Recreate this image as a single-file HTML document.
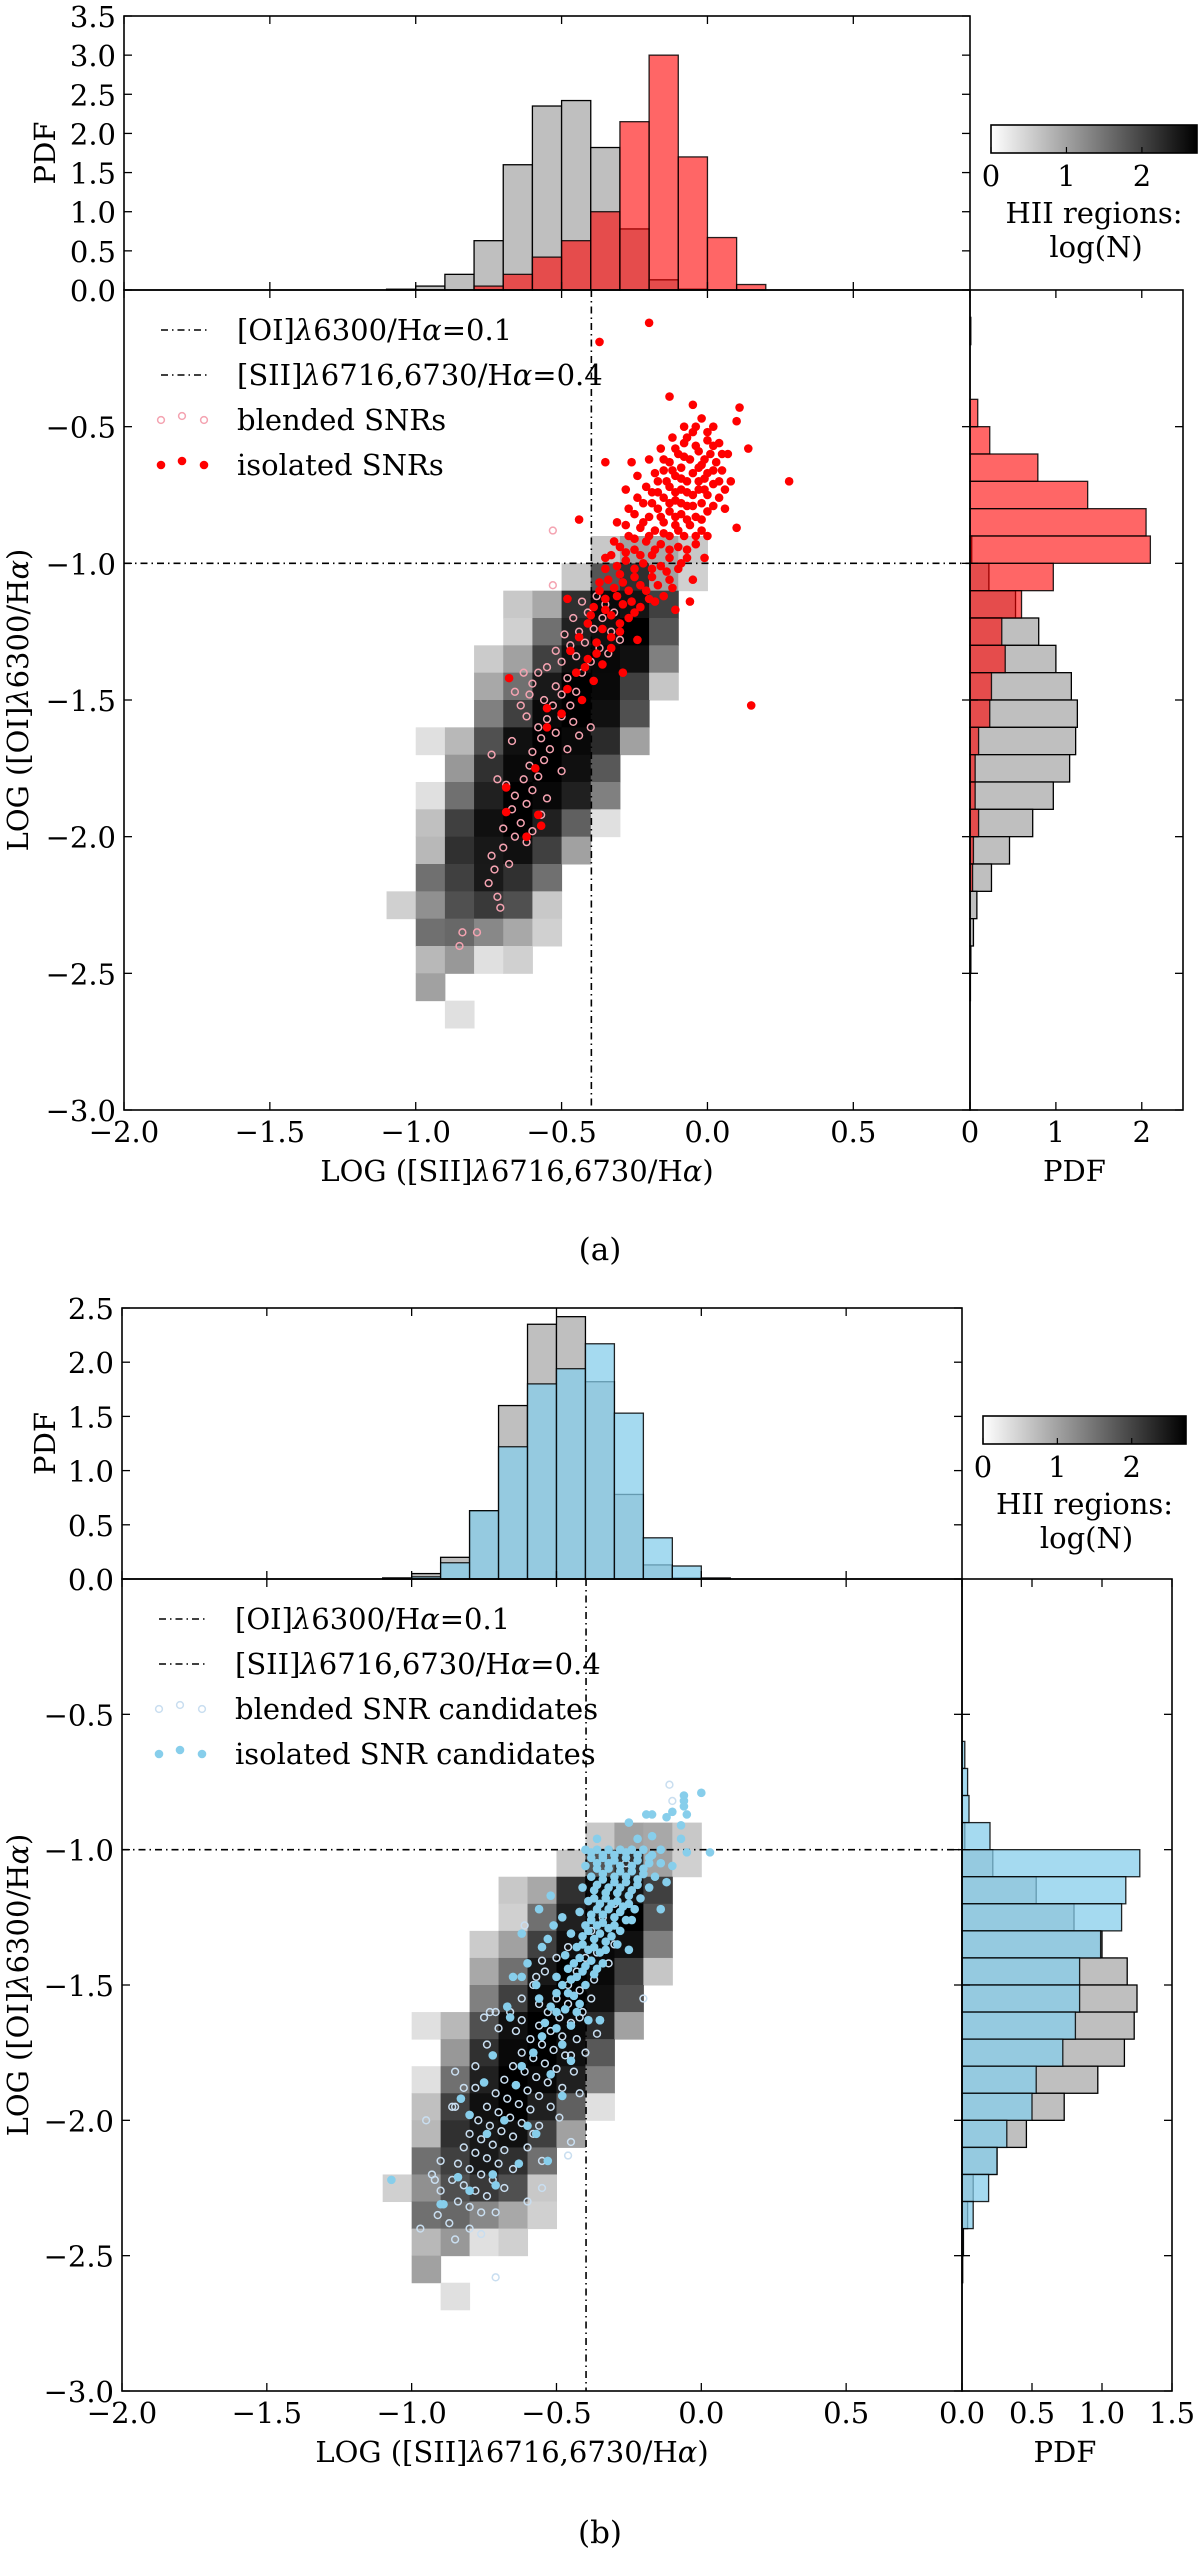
<!DOCTYPE html>
<html><head><meta charset="utf-8"><title>SNR diagnostic diagrams</title>
<style>
html,body{margin:0;padding:0;background:#fff;}
svg{display:block;}
text{font-family:"DejaVu Serif","Liberation Serif",serif;fill:#000;}
</style></head>
<body>
<svg id="fig" xmlns="http://www.w3.org/2000/svg" width="1200" height="2551" viewBox="0 0 1200 2551">
<defs>
<linearGradient id="cbgrad" x1="0" x2="1" y1="0" y2="0"><stop offset="0" stop-color="#ffffff"/><stop offset="1" stop-color="#000000"/></linearGradient>
</defs>
</svg>
<script>
// ---------- data ----------
const tickX = [-2.0,-1.5,-1.0,-0.5,0.0,0.5];
const tickXLabels = ["\u22122.0","\u22121.5","\u22121.0","\u22120.5","0.0","0.5"];
const tickY = [-3.0,-2.5,-2.0,-1.5,-1.0,-0.5];
const tickYLabels = ["\u22123.0","\u22122.5","\u22122.0","\u22121.5","\u22121.0","\u22120.5"];
const topTicksA = [0,0.5,1,1.5,2,2.5,3,3.5];
const topTicksB = [0,0.5,1,1.5,2,2.5];
const rightTicksA = [0,1,2];
const rightTickLabelsA = ["0","1","2"];
const rightTicksB = [0,0.5,1,1.5];
const rightTickLabelsB = ["0.0","0.5","1.0","1.5"];
const cbTicks = [0,1,2];

const topBinStart = -1.1;
const hiiTopPdf = [0.01,0.05,0.2,0.63,1.6,2.35,2.42,1.82,0.78,0.13,0.01];
const snrTopPdfA = [0,0,0,0.05,0.2,0.42,0.63,1.0,2.15,3.0,1.7,0.67,0.07];
const candTopPdfB = [0.005,0.02,0.15,0.63,1.22,1.8,1.94,2.17,1.53,0.38,0.12,0.01];

const rightBinTop = -0.1;
const hiiRightPdf = [0,0,0,0,0,0,0,0,0.02,0.22,0.53,0.8,1.0,1.18,1.25,1.23,1.16,0.97,0.73,0.46,0.25,0.08,0.04,0.01,0.005];
const snrRightPdfA = [0.01,0,0,0.09,0.23,0.79,1.37,2.05,2.1,0.97,0.6,0.37,0.41,0.25,0.23,0.1,0.06,0.06,0.1,0.04,0.03,0,0,0,0];
const candRightPdfB = [0,0,0,0,0,0.02,0.04,0.05,0.2,1.27,1.17,1.14,0.99,0.84,0.84,0.81,0.72,0.53,0.5,0.32,0.25,0.19,0.08,0.01,0];

const cellX = [-0.4,-0.3,-0.2,-0.1, -0.5,-0.4,-0.3,-0.2,-0.1, -0.7,-0.6,-0.5,-0.4,-0.3,-0.2, -0.7,-0.6,-0.5,-0.4,-0.3,-0.2,
 -0.8,-0.7,-0.6,-0.5,-0.4,-0.3,-0.2, -0.8,-0.7,-0.6,-0.5,-0.4,-0.3,-0.2, -0.8,-0.7,-0.6,-0.5,-0.4,-0.3,
 -1.0,-0.9,-0.8,-0.7,-0.6,-0.5,-0.4,-0.3, -0.9,-0.8,-0.7,-0.6,-0.5,-0.4, -1.0,-0.9,-0.8,-0.7,-0.6,-0.5,-0.4,
 -1.0,-0.9,-0.8,-0.7,-0.6,-0.5,-0.4, -1.0,-0.9,-0.8,-0.7,-0.6,-0.5, -1.0,-0.9,-0.8,-0.7,-0.6,
 -1.1,-1.0,-0.9,-0.8,-0.7,-0.6, -1.0,-0.9,-0.8,-0.7,-0.6, -1.0,-0.9,-0.8,-0.7, -1.0, -0.9];
const cellY = [-1.0,-1.0,-1.0,-1.0, -1.1,-1.1,-1.1,-1.1,-1.1, -1.2,-1.2,-1.2,-1.2,-1.2,-1.2, -1.3,-1.3,-1.3,-1.3,-1.3,-1.3,
 -1.4,-1.4,-1.4,-1.4,-1.4,-1.4,-1.4, -1.5,-1.5,-1.5,-1.5,-1.5,-1.5,-1.5, -1.6,-1.6,-1.6,-1.6,-1.6,-1.6,
 -1.7,-1.7,-1.7,-1.7,-1.7,-1.7,-1.7,-1.7, -1.8,-1.8,-1.8,-1.8,-1.8,-1.8, -1.9,-1.9,-1.9,-1.9,-1.9,-1.9,-1.9,
 -2.0,-2.0,-2.0,-2.0,-2.0,-2.0,-2.0, -2.1,-2.1,-2.1,-2.1,-2.1,-2.1, -2.2,-2.2,-2.2,-2.2,-2.2,
 -2.3,-2.3,-2.3,-2.3,-2.3,-2.3, -2.4,-2.4,-2.4,-2.4,-2.4, -2.5,-2.5,-2.5,-2.5, -2.6, -2.7];
const cellV = [0.58,1.0,0.92,0.58, 0.58,1.8,2.2,1.0,0.5, 0.58,0.92,2.19,2.6,2.5,2.02, 0.5,1.51,2.36,2.53,2.7,1.8,
 0.55,1.0,2.02,2.53,2.62,2.53,1.34, 0.92,1.51,2.43,2.7,2.6,2.02,0.6, 1.34,2.02,2.6,2.7,2.53,1.85,
 0.33,0.75,1.85,2.53,2.7,2.6,2.25,1.0, 1.09,2.19,2.6,2.7,2.53,1.77, 0.33,1.51,2.36,2.7,2.62,2.36,1.34,
 0.67,2.02,2.53,2.7,2.36,1.68,0.33, 0.75,2.19,2.45,2.53,2.02,1.0, 1.51,2.02,2.43,2.19,1.51,
 0.5,1.18,1.85,2.1,1.85,0.58, 1.51,1.6,1.26,0.92,0.5, 0.75,1.09,0.33,0.5, 1.0, 0.33];

const isolatedA = [[-0.2,-0.12],[-0.37,-0.19],[-0.13,-0.39],[-0.05,-0.42],[0.11,-0.43],[0.1,-0.48],[0.14,-0.58],[0.28,-0.7],[-0.35,-0.63],[-0.44,-0.84],[0.1,-0.87],[-0.06,-1.14],[0.15,-1.52],[-0.68,-1.42],[-0.48,-1.13],[-0.55,-1.53],[-0.69,-1.82],[-0.62,-2.0],[-0.58,-1.92],[-0.57,-1.96],[-0.69,-1.91],[-0.59,-1.75],
[-0.02,-0.47],[0.02,-0.5],[-0.05,-0.52],[0.0,-0.55],[0.04,-0.56],[-0.08,-0.56],[-0.03,-0.59],[0.01,-0.6],[-0.1,-0.6],[-0.06,-0.62],[0.03,-0.63],[-0.13,-0.63],[-0.02,-0.64],[-0.09,-0.65],[0.0,-0.67],[-0.05,-0.67],[-0.15,-0.66],[0.05,-0.66],[-0.11,-0.68],[-0.03,-0.7],[-0.07,-0.7],[-0.17,-0.7],[0.02,-0.71],[-0.13,-0.72],[-0.09,-0.73],[-0.01,-0.73],[-0.05,-0.75],[-0.19,-0.74],[-0.15,-0.76],[0.04,-0.76],[-0.11,-0.77],[-0.02,-0.78],[-0.07,-0.79],[-0.22,-0.78],[-0.17,-0.8],[-0.13,-0.81],[0.0,-0.81],[-0.09,-0.82],[-0.04,-0.83],[-0.2,-0.83],[-0.25,-0.82],[-0.15,-0.85],[-0.11,-0.86],[-0.06,-0.86],[-0.23,-0.87],[-0.18,-0.88],[-0.02,-0.88],[-0.13,-0.9],[-0.08,-0.9],[-0.27,-0.9],[-0.21,-0.92],[-0.16,-0.93],[-0.1,-0.94],[-0.04,-0.93],[-0.3,-0.94],[-0.25,-0.95],[-0.19,-0.97],[-0.13,-0.98],[-0.07,-0.98],[-0.33,-0.97],[-0.28,-0.99],[-0.22,-1.0],[-0.16,-1.01],[-0.1,-1.02],[-0.35,-1.02],[-0.3,-1.04],[-0.25,-1.05],[-0.19,-1.05],[-0.13,-1.06],[-0.37,-1.07],[-0.32,-1.09],[-0.27,-1.1],[-0.21,-1.1],[-0.15,-1.12],[-0.35,-1.13],[-0.29,-1.15],[-0.23,-1.16],[-0.39,-1.16],[-0.33,-1.19],[-0.27,-1.2],[-0.41,-1.22],[-0.36,-1.24],[-0.3,-1.25],[-0.44,-1.27],[-0.38,-1.29],[-0.33,-1.31],[-0.47,-1.32],[-0.41,-1.35],[-0.36,-1.37],[-0.45,-1.4],[-0.39,-1.43],[-0.48,-1.46],[-0.43,-1.5],[-0.5,-1.55],[-0.55,-1.6],[-0.2,-0.62],[-0.24,-0.68],[0.07,-0.6],[0.08,-0.7],[-0.12,-0.54],[-0.28,-0.73],[0.06,-0.8],[-0.31,-0.85],[-0.01,-0.98],[-0.05,-1.06],[-0.18,-1.14],[-0.11,-1.17],[-0.24,-1.28],[-0.29,-1.4],
[-0.04,-0.5],[0.0,-0.52],[-0.07,-0.54],[0.02,-0.57],[-0.04,-0.57],[-0.11,-0.58],[0.05,-0.6],[-0.01,-0.62],[-0.08,-0.61],[-0.15,-0.62],[0.02,-0.66],[-0.03,-0.65],[-0.12,-0.66],[-0.18,-0.67],[0.04,-0.7],[-0.01,-0.69],[-0.09,-0.69],[-0.14,-0.7],[-0.21,-0.72],[0.0,-0.75],[-0.03,-0.73],[-0.07,-0.74],[-0.11,-0.74],[-0.17,-0.74],[-0.24,-0.76],[0.02,-0.79],[-0.05,-0.79],[-0.09,-0.78],[-0.13,-0.78],[-0.19,-0.78],[-0.27,-0.8],[-0.02,-0.84],[-0.07,-0.84],[-0.11,-0.83],[-0.16,-0.83],[-0.22,-0.85],[-0.28,-0.86],[-0.04,-0.9],[-0.1,-0.88],[-0.15,-0.89],[-0.2,-0.9],[-0.25,-0.91],[-0.32,-0.92],[-0.07,-0.95],[-0.13,-0.95],[-0.18,-0.95],[-0.23,-0.97],[-0.28,-0.96],[-0.35,-0.98],[-0.09,-1.0],[-0.14,-1.03],[-0.19,-1.02],[-0.25,-1.02],[-0.31,-1.01],[-0.12,-1.09],[-0.17,-1.08],[-0.23,-1.08],[-0.29,-1.07],[-0.34,-1.06],[-0.2,-1.13],[-0.26,-1.14],[-0.31,-1.12],[-0.37,-1.1],[-0.25,-1.18],[-0.3,-1.22],[-0.35,-1.17],[-0.4,-1.19],[-0.33,-1.27],[-0.38,-1.33],[-0.42,-1.38],[-0.08,-0.5],[-0.16,-0.58],[0.06,-0.73],[0.0,-0.9],[-0.26,-0.63]];
const blendedA = [[-0.53,-0.88],[-0.53,-1.08],[-0.85,-2.4],[-0.84,-2.35],[-0.79,-2.35],[-0.71,-2.26],[-0.72,-2.22],[-0.75,-2.17],[-0.73,-2.12],[-0.74,-2.07],[-0.7,-2.04],[-0.68,-2.1],[-0.66,-2.0],[-0.7,-1.97],[-0.64,-1.95],[-0.67,-1.9],[-0.62,-1.88],[-0.66,-1.85],[-0.6,-1.83],[-0.63,-1.79],[-0.58,-1.78],[-0.61,-1.74],[-0.56,-1.72],[-0.6,-1.69],[-0.74,-1.7],[-0.67,-1.65],[-0.54,-1.68],[-0.57,-1.64],[-0.52,-1.62],[-0.58,-1.6],[-0.55,-1.57],[-0.5,-1.56],[-0.53,-1.52],[-0.47,-1.52],[-0.56,-1.5],[-0.5,-1.48],[-0.45,-1.47],[-0.52,-1.45],[-0.6,-1.44],[-0.63,-1.4],[-0.58,-1.4],[-0.55,-1.38],[-0.48,-1.42],[-0.43,-1.4],[-0.5,-1.36],[-0.45,-1.34],[-0.4,-1.36],[-0.52,-1.32],[-0.47,-1.3],[-0.42,-1.29],[-0.37,-1.31],[-0.49,-1.26],[-0.44,-1.25],[-0.39,-1.24],[-0.46,-1.2],[-0.41,-1.18],[-0.36,-1.2],[-0.43,-1.14],[-0.38,-1.12],[-0.33,-1.25],[-0.3,-1.28],[-0.34,-1.33],[-0.4,-1.6],[-0.46,-1.58],[-0.44,-1.63],[-0.62,-1.56],[-0.64,-1.52],[-0.66,-1.47],[-0.61,-1.48],[-0.62,-2.02],[-0.6,-1.98],[-0.57,-1.92],[-0.55,-1.86],[-0.69,-1.81],[-0.72,-1.79],[-0.5,-1.76],[-0.48,-1.68],[-0.35,-1.15],[-0.32,-1.18]];
const isolatedB = [[-0.4,-1.0],[-0.36,-1.0],[-0.32,-1.0],[-0.28,-1.0],[-0.24,-1.0],[-0.2,-1.0],[-0.17,-1.02],[-0.38,-1.03],[-0.34,-1.03],[-0.3,-1.04],[-0.26,-1.03],[-0.22,-1.04],[-0.18,-1.05],[-0.14,-1.05],[-0.4,-1.06],[-0.36,-1.07],[-0.32,-1.07],[-0.28,-1.08],[-0.24,-1.08],[-0.2,-1.09],[-0.16,-1.1],[-0.38,-1.1],[-0.34,-1.11],[-0.3,-1.12],[-0.26,-1.12],[-0.22,-1.13],[-0.18,-1.14],[-0.41,-1.14],[-0.37,-1.15],[-0.33,-1.16],[-0.29,-1.16],[-0.25,-1.17],[-0.21,-1.18],[-0.39,-1.19],[-0.35,-1.2],[-0.31,-1.2],[-0.27,-1.21],[-0.23,-1.22],[-0.42,-1.23],[-0.38,-1.24],[-0.34,-1.24],[-0.3,-1.25],[-0.26,-1.26],[-0.4,-1.28],[-0.36,-1.28],[-0.32,-1.29],[-0.28,-1.3],[-0.45,-1.31],[-0.41,-1.32],[-0.37,-1.33],[-0.33,-1.34],[-0.29,-1.35],[-0.43,-1.36],[-0.39,-1.37],[-0.35,-1.38],[-0.47,-1.39],[-0.42,-1.4],[-0.38,-1.41],[-0.34,-1.42],[-0.46,-1.44],[-0.41,-1.45],[-0.37,-1.46],[-0.5,-1.47],[-0.45,-1.48],[-0.4,-1.5],[-0.53,-1.33],[-0.51,-1.28],[-0.48,-1.25],[-0.55,-1.36],[-0.5,-1.53],[-0.44,-1.54],[-0.52,-1.58],[-0.47,-1.59],[-0.42,-1.57],[-0.56,-1.55],[-0.39,-1.63],[-0.45,-1.65],[-0.5,-1.66],[-0.55,-1.69],[-0.48,-1.72],[-0.58,-1.75],[-0.62,-1.8],[-0.45,-1.78],[-0.52,-1.83],[-0.35,-1.63],[-0.43,-1.6],[-0.6,-1.42],[-0.62,-1.47],[-0.57,-1.5],
[0.0,-0.79],[-0.06,-0.8],[-0.06,-0.82],[-0.06,-0.84],[-0.1,-0.86],[-0.05,-0.87],[-0.12,-0.88],[-0.17,-0.87],[-0.19,-0.87],[-0.25,-0.9],[-0.07,-0.91],[-0.07,-0.96],[-0.05,-1.01],[0.03,-1.01],[-0.1,-1.06],[-0.12,-1.12],[-0.14,-1.22],[-0.24,-1.26],[-0.25,-1.37],[-0.36,-0.96],[-0.52,-1.17],[-0.56,-1.22],[-0.62,-1.31],[-0.65,-1.47],[-0.67,-1.58],[-0.72,-1.76],[-0.75,-1.86],[-0.8,-1.98],[-0.84,-2.21],[-0.89,-2.31],[-0.9,-2.31],[-1.07,-2.22],[-0.71,-2.24],[-0.63,-2.16],[-0.53,-2.15],[-0.48,-1.91],[-0.35,-1.63],[-0.64,-1.87],[-0.68,-2.0],[-0.74,-2.05],[-0.72,-2.2],[-0.8,-2.26],[-0.83,-1.92],[-0.6,-2.02],[-0.57,-2.05],[-0.66,-1.62],
[-0.38,-1.01],[-0.34,-1.02],[-0.3,-1.02],[-0.26,-1.01],[-0.22,-1.02],[-0.18,-1.03],[-0.36,-1.05],[-0.32,-1.05],[-0.28,-1.06],[-0.24,-1.06],[-0.2,-1.07],[-0.34,-1.09],[-0.3,-1.1],[-0.26,-1.1],[-0.22,-1.11],[-0.36,-1.13],[-0.32,-1.14],[-0.28,-1.14],[-0.24,-1.15],[-0.37,-1.18],[-0.33,-1.18],[-0.29,-1.19],[-0.25,-1.2],[-0.36,-1.22],[-0.32,-1.22],[-0.28,-1.23],[-0.38,-1.26],[-0.34,-1.27],[-0.3,-1.28],[-0.39,-1.3],[-0.35,-1.31],[-0.31,-1.32],[-0.41,-1.35],[-0.37,-1.36],[-0.33,-1.37],[-0.44,-1.42],[-0.4,-1.43],[-0.36,-1.44],[-0.43,-1.47],[-0.48,-1.5],[-0.46,-1.53],[-0.5,-1.6],[-0.54,-1.64],[-0.22,-0.96],[-0.17,-0.95],[-0.14,-1.0]];
const blendedB = [[-0.4,-1.4],[-0.43,-1.45],[-0.37,-1.48],[-0.46,-1.5],[-0.42,-1.52],[-0.38,-1.55],[-0.5,-1.55],[-0.46,-1.57],[-0.41,-1.6],[-0.53,-1.6],[-0.49,-1.62],[-0.45,-1.64],[-0.56,-1.65],[-0.52,-1.67],[-0.48,-1.69],[-0.43,-1.7],[-0.59,-1.7],[-0.55,-1.72],[-0.51,-1.74],[-0.47,-1.76],[-0.62,-1.75],[-0.58,-1.77],[-0.54,-1.79],[-0.5,-1.81],[-0.65,-1.8],[-0.61,-1.82],[-0.57,-1.84],[-0.53,-1.86],[-0.68,-1.85],[-0.64,-1.87],[-0.6,-1.89],[-0.56,-1.91],[-0.71,-1.9],[-0.67,-1.92],[-0.63,-1.94],[-0.59,-1.96],[-0.74,-1.95],[-0.7,-1.97],[-0.66,-1.99],[-0.62,-2.01],[-0.77,-2.0],[-0.73,-2.02],[-0.69,-2.04],[-0.65,-2.06],[-0.8,-2.05],[-0.76,-2.07],[-0.72,-2.09],[-0.68,-2.11],[-0.82,-2.1],[-0.78,-2.12],[-0.74,-2.14],[-0.7,-2.16],[-0.84,-2.16],[-0.8,-2.18],[-0.76,-2.2],[-0.72,-2.22],[-0.86,-2.22],[-0.82,-2.24],[-0.78,-2.26],[-0.74,-2.28],[-0.84,-2.3],[-0.8,-2.32],[-0.76,-2.34],[-0.9,-2.15],[-0.93,-2.2],[-0.9,-2.26],[-0.95,-2.0],[-0.86,-1.95],[-0.82,-1.88],[-0.78,-1.8],[-0.74,-1.72],[-0.7,-1.66],[-0.66,-1.6],[-0.62,-1.55],[-0.58,-1.5],[-0.54,-1.45],[-0.5,-1.4],[-0.46,-1.36],[-0.6,-2.1],[-0.56,-2.02],[-0.52,-1.95],[-0.48,-1.88],[-0.44,-1.82],[-0.4,-1.75],[-0.36,-1.68],[-0.38,-1.3],[-0.34,-1.25],[-0.36,-1.38],[-0.32,-1.42],[-0.3,-1.35],[-0.42,-1.62],[-0.58,-2.05],[-0.55,-2.15],[-0.65,-2.18],[-0.68,-2.25],[-0.71,-2.34],[-0.76,-2.42],[-0.85,-2.44],[-0.71,-2.58],[-0.97,-2.4],[-0.91,-2.35],[-0.87,-2.38],[-0.75,-1.62],[-0.73,-1.6],[-0.71,-1.6],[-0.78,-1.88],[-0.85,-1.95],[-0.85,-1.82],[-0.64,-1.67],[-0.62,-1.63],[-0.56,-1.57],[-0.61,-1.28],[-0.55,-1.41],[-0.57,-1.47],[-0.45,-1.76],[-0.42,-1.9],[-0.45,-2.08],[-0.46,-2.13],[-0.49,-1.99],[-0.55,-2.25],[-0.92,-2.22],[-0.6,-2.3],[-0.8,-2.4],[-0.3,-1.2],[-0.26,-1.05],[-0.11,-0.76],[-0.1,-0.82],[-0.2,-1.55]];

const oiThreshold = -1.0;
const siiThreshold = Math.log10(0.4);

// ---------- drawing ----------
const NS = "http://www.w3.org/2000/svg";
const svg = document.getElementById('fig');
function mk(tag, attrs, parent){
  const e = document.createElementNS(NS, tag);
  for (const k in attrs) e.setAttribute(k, attrs[k]);
  parent.appendChild(e);
  return e;
}

function drawPanel(P){
  const g = mk('g', {}, svg);
  
  
  const xs = v => P.L + (v - P.xmin) / (P.xmax - P.xmin) * (P.R - P.L);
  const ys = v => P.B - (v - P.ymin) / (P.ymax - P.ymin) * (P.B - P.M);
  const th = v => P.M - v / P.topMax * (P.M - P.T);
  const rx = v => P.R + v / P.rightMax * (P.HR - P.R);
  const bw = 0.1;

  const hg = mk('g', {}, g);
  
  
  for (let i = 0; i < cellX.length; i++){
    const lv = Math.round(255 * (1 - Math.min(cellV[i], 2.7) / 2.7));
    const x0 = xs(cellX[i]), x1 = xs(cellX[i] + bw), y0 = ys(cellY[i] + bw), y1 = ys(cellY[i]);
    const r = mk('rect', {x:x0, y:y0, width:x1-x0+0.5, height:y1-y0+0.5, fill:`rgb(${lv},${lv},${lv})`}, hg);
    
    
  }

  const dash = '7,4,1.5,4';
  const hl = mk('line', {x1:P.L, x2:P.R, y1:ys(oiThreshold), y2:ys(oiThreshold), stroke:'#000', 'stroke-width':1.6, 'stroke-dasharray':dash}, g);
  
  
  const vl = mk('line', {x1:xs(siiThreshold), x2:xs(siiThreshold), y1:P.M, y2:P.B, stroke:'#000', 'stroke-width':1.6, 'stroke-dasharray':dash}, g);
  
  

  const sg = mk('g', {}, g);
  
  
  P.blended.forEach(p => {
    const c = mk('circle', {cx:xs(p[0]), cy:ys(p[1]), r:3.4, fill:'none', stroke:P.blendColor, 'stroke-width':1.5}, sg);
    
    
  });
  P.isolated.forEach(p => {
    const c = mk('circle', {cx:xs(p[0]), cy:ys(p[1]), r:4.3, fill:P.isoColor}, sg);
    
    
  });

  const tg = mk('g', {}, g);
  
  
  hiiTopPdf.forEach((v, i) => {
    if (v <= 0) return;
    const x0 = xs(topBinStart + i*bw), x1 = xs(topBinStart + (i+1)*bw);
    const r = mk('rect', {x:x0, y:th(v), width:x1-x0, height:P.M-th(v), fill:'#bfbfbf', stroke:'#000', 'stroke-width':1.3}, tg);
    
    
  });
  P.topPdf.forEach((v, i) => {
    if (v <= 0) return;
    const x0 = xs(topBinStart + i*bw), x1 = xs(topBinStart + (i+1)*bw);
    const r = mk('rect', {x:x0, y:th(v), width:x1-x0, height:P.M-th(v), fill:P.histColor, 'fill-opacity':P.histAlpha, stroke:'#000', 'stroke-width':1.3, 'stroke-opacity':0.85}, tg);
    
    
  });

  const rg = mk('g', {}, g);
  
  
  hiiRightPdf.forEach((v, i) => {
    if (v <= 0) return;
    const y0 = ys(rightBinTop - i*bw), y1 = ys(rightBinTop - (i+1)*bw);
    const r = mk('rect', {x:P.R, y:y0, width:rx(v)-P.R, height:y1-y0, fill:'#bfbfbf', stroke:'#000', 'stroke-width':1.3}, rg);
    
    
  });
  P.rightPdf.forEach((v, i) => {
    if (v <= 0) return;
    const y0 = ys(rightBinTop - i*bw), y1 = ys(rightBinTop - (i+1)*bw);
    const r = mk('rect', {x:P.R, y:y0, width:rx(v)-P.R, height:y1-y0, fill:P.histColor, 'fill-opacity':P.histAlpha, stroke:'#000', 'stroke-width':1.3, 'stroke-opacity':0.85}, rg);
    
    
  });

  const frames = [[P.L,P.M,P.R,P.B,'main-axes-frame'],[P.L,P.T,P.R,P.M,'top-hist-frame'],[P.R,P.M,P.HR,P.B,'right-hist-frame']];
  frames.forEach(f => {
    const r = mk('rect', {x:f[0], y:f[1], width:f[2]-f[0], height:f[3]-f[1], fill:'none', stroke:'#000', 'stroke-width':1.6}, g);
    
    
  });

  const tk = mk('g', {stroke:'#000', 'stroke-width':1.3}, g);
  
  
  const TL = 8;
  tickX.forEach(v => {
    const x = xs(v);
    mk('line', {x1:x, x2:x, y1:P.B, y2:P.B-TL}, tk);
    mk('line', {x1:x, x2:x, y1:P.M, y2:P.M+TL}, tk);
    mk('line', {x1:x, x2:x, y1:P.M, y2:P.M-TL}, tk);
    mk('line', {x1:x, x2:x, y1:P.T, y2:P.T+TL}, tk);
  });
  tickY.forEach(v => {
    const y = ys(v);
    mk('line', {x1:P.L, x2:P.L+TL, y1:y, y2:y}, tk);
    mk('line', {x1:P.R, x2:P.R-TL, y1:y, y2:y}, tk);
    mk('line', {x1:P.R, x2:P.R+TL, y1:y, y2:y}, tk);
    mk('line', {x1:P.HR, x2:P.HR-TL, y1:y, y2:y}, tk);
  });
  P.topTicks.forEach(v => {
    const y = th(v);
    mk('line', {x1:P.L, x2:P.L+TL, y1:y, y2:y}, tk);
    mk('line', {x1:P.R, x2:P.R-TL, y1:y, y2:y}, tk);
  });
  P.rightTicks.forEach(v => {
    const x = rx(v);
    mk('line', {x1:x, x2:x, y1:P.B, y2:P.B-TL}, tk);
    mk('line', {x1:x, x2:x, y1:P.M, y2:P.M+TL}, tk);
  });

  const FS = 29;
  tickX.forEach((v, i) => {
    const t = mk('text', {x:xs(v), y:P.B+32, 'font-size':FS, 'text-anchor':'middle'}, g);
    t.textContent = tickXLabels[i];
    
    
  });
  tickY.forEach((v, i) => {
    const t = mk('text', {x:P.L-8, y:ys(v)+11, 'font-size':FS, 'text-anchor':'end'}, g);
    t.textContent = tickYLabels[i];
    
    
  });
  P.topTicks.forEach(v => {
    const t = mk('text', {x:P.L-8, y:th(v)+11, 'font-size':FS, 'text-anchor':'end'}, g);
    t.textContent = v.toFixed(1);
    
    
  });
  P.rightTicks.forEach((v, i) => {
    const t = mk('text', {x:rx(v), y:P.B+32, 'font-size':FS, 'text-anchor':'middle'}, g);
    t.textContent = P.rightTickLabels[i];
    
    
  });

  const xl = mk('text', {x:(P.L+P.R)/2 - 30, y:P.B+71, 'font-size':FS, 'text-anchor':'middle'}, g);
  xl.innerHTML = 'LOG ([SII]<tspan font-style="italic">λ</tspan>6716,6730/H<tspan font-style="italic">α</tspan>)';
  
  
  const yl = mk('text', {x:0, y:0, 'font-size':FS, 'text-anchor':'middle', transform:`translate(28,${(P.M+P.B)/2}) rotate(-90)`}, g);
  yl.innerHTML = 'LOG ([OI]<tspan font-style="italic">λ</tspan>6300/H<tspan font-style="italic">α</tspan>)';
  
  
  const tpl = mk('text', {x:0, y:0, 'font-size':FS, 'text-anchor':'middle', transform:`translate(55,${(P.T+P.M)/2}) rotate(-90)`}, g);
  tpl.textContent = 'PDF';
  
  
  const rpl = mk('text', {x:(P.R+P.HR)/2-2, y:P.B+71, 'font-size':FS, 'text-anchor':'middle'}, g);
  rpl.textContent = 'PDF';
  
  

  const lg = mk('g', {}, g);
  
  
  const rows = [40, 85, 130, 175];
  const lx = P.L + 37, tx = P.L + 113;
  [0,1].forEach(k => {
    const l = mk('line', {x1:lx, x2:lx+46, y1:P.M+rows[k], y2:P.M+rows[k], stroke:'#000', 'stroke-width':1.6, 'stroke-dasharray':dash}, lg);
    
    
  });
  [lx, lx+21, lx+43].forEach((mx, j) => {
    const dy = j === 1 ? -4 : 0;
    const c1 = mk('circle', {cx:mx, cy:P.M+rows[2]+dy, r:3.4, fill:'none', stroke:P.blendColor, 'stroke-width':1.5}, lg);
    
    
    const c2 = mk('circle', {cx:mx, cy:P.M+rows[3]+dy, r:4.3, fill:P.isoColor}, lg);
    
    
  });
  const ltexts = ['[OI]<tspan font-style="italic">λ</tspan>6300/H<tspan font-style="italic">α</tspan>=0.1',
                  '[SII]<tspan font-style="italic">λ</tspan>6716,6730/H<tspan font-style="italic">α</tspan>=0.4',
                  P.blendLabel, P.isoLabel];
  ltexts.forEach((s, k) => {
    const t = mk('text', {x:tx, y:P.M+rows[k]+10, 'font-size':FS}, lg);
    t.innerHTML = s;
    
    
  });

  const cb = P.cb;
  const cr = mk('rect', {x:cb.x0, y:cb.y0, width:cb.x1-cb.x0, height:cb.y1-cb.y0, fill:'url(#cbgrad)', stroke:'#000', 'stroke-width':1.6}, g);
  
  
  const cbx = v => cb.x0 + v / 2.73 * (cb.x1 - cb.x0);
  cbTicks.forEach(v => {
    mk('line', {x1:cbx(v), x2:cbx(v), y1:cb.y1, y2:cb.y1-6, stroke:'#000', 'stroke-width':1.2}, g);
    const t = mk('text', {x:cbx(v), y:cb.y1+33, 'font-size':FS, 'text-anchor':'middle'}, g);
    t.textContent = String(v);
    
    
  });
  const cbt1 = mk('text', {x:(cb.x0+cb.x1)/2, y:cb.y1+70, 'font-size':FS, 'text-anchor':'middle'}, g);
  cbt1.textContent = 'HII regions:';
  
  
  const cbt2 = mk('text', {x:(cb.x0+cb.x1)/2+2, y:cb.y1+104, 'font-size':FS, 'text-anchor':'middle'}, g);
  cbt2.textContent = 'log(N)';
  
  

  const cap = mk('text', {x:600, y:P.cap, 'font-size':31, 'text-anchor':'middle'}, g);
  cap.textContent = P.capText;
  
  
}

drawPanel({name:'panel-a', L:124, R:970, HR:1183, T:16, M:290, B:1110, xmin:-2, xmax:0.9, ymin:-3, ymax:0,
  topMax:3.5, rightMax:2.48, topTicks:topTicksA, rightTicks:rightTicksA, rightTickLabels:rightTickLabelsA,
  topPdf:snrTopPdfA, rightPdf:snrRightPdfA, histColor:'#ff0000', histAlpha:0.6,
  isolated:isolatedA, blended:blendedA, isoColor:'#ff0000', blendColor:'#f4a3b1',
  blendLabel:'blended SNRs', isoLabel:'isolated SNRs',
  cb:{x0:991, x1:1197, y0:125, y1:153}, cap:1260, capText:'(a)'});

drawPanel({name:'panel-b', L:122, R:962, HR:1172, T:1308, M:1579, B:2391, xmin:-2, xmax:0.9, ymin:-3, ymax:0,
  topMax:2.5, rightMax:1.5, topTicks:topTicksB, rightTicks:rightTicksB, rightTickLabels:rightTickLabelsB,
  topPdf:candTopPdfB, rightPdf:candRightPdfB, histColor:'#87ceeb', histAlpha:0.75,
  isolated:isolatedB, blended:blendedB, isoColor:'#87ceeb', blendColor:'#c9def0',
  blendLabel:'blended SNR candidates', isoLabel:'isolated SNR candidates',
  cb:{x0:983, x1:1186, y0:1416, y1:1444}, cap:2543, capText:'(b)'});
</script>
</body></html>
